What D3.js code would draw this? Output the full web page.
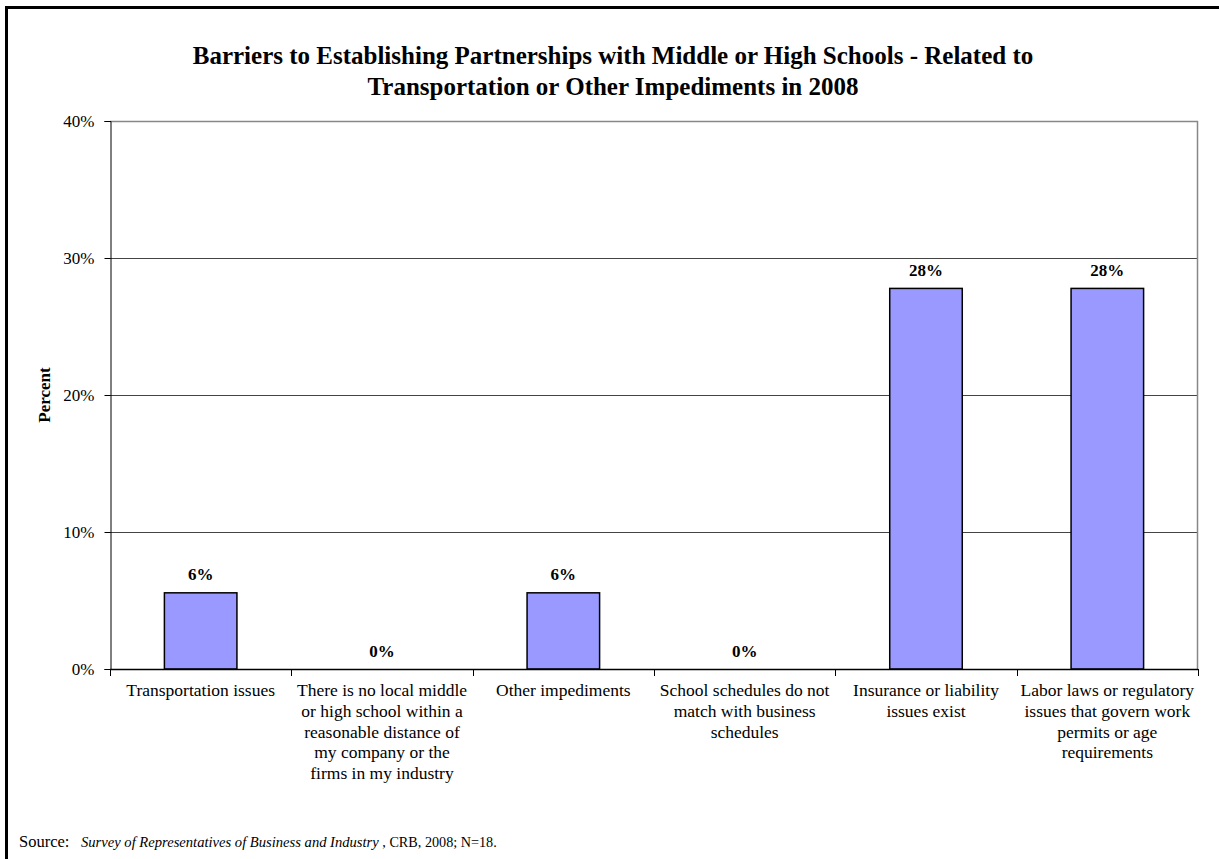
<!DOCTYPE html>
<html>
<head>
<meta charset="utf-8">
<script src="https://cdn.jsdelivr.net/npm/d3@7"></script>
<style>
  html, body { margin: 0; padding: 0; background: #fff; overflow: hidden; }
  svg { display: block; }
  text { font-family: "Liberation Serif", "Times New Roman", serif; fill: #000; }
</style>
</head>
<body>
<svg id="chart" width="1219" height="859"></svg>
<script>
const titleLines = [
  "Barriers to Establishing Partnerships with Middle or High Schools - Related to",
  "Transportation or Other Impediments in 2008"
];
const categories = [
  "Transportation issues",
  "There is no local middle or high school within a reasonable distance of my company or the firms in my industry",
  "Other impediments",
  "School schedules do not match with business schedules",
  "Insurance or liability issues exist",
  "Labor laws or regulatory issues that govern work permits or age requirements"
];
const categoryLines = [
  ["Transportation issues"],
  ["There is no local middle", "or high school within a", "reasonable distance of", "my company or the", "firms in my industry"],
  ["Other impediments"],
  ["School schedules do not", "match with business", "schedules"],
  ["Insurance or liability", "issues exist"],
  ["Labor laws or regulatory", "issues that govern work", "permits or age", "requirements"]
];
const values = [0.0556, 0, 0.0556, 0, 0.2778, 0.2778];
const yTicks = [0, 0.1, 0.2, 0.3, 0.4];
const yAxisTitle = "Percent";
const sourcePrefix = "Source:";
const sourceItalic = "Survey of Representatives of Business and Industry";
const sourceSuffix = " , CRB, 2008; N=18.";

const svg = d3.select("#chart");
const plot = { left: 110, right: 1198, top: 121, bottom: 669 };

// outer frame (cut off at right and bottom)
svg.append("rect")
  .attr("x", 6.5).attr("y", 7.5)
  .attr("width", 1400).attr("height", 1000)
  .attr("fill", "none").attr("stroke", "#000").attr("stroke-width", 3);

const x = d3.scaleBand().domain(categories).range([plot.left, plot.right]).padding(0);
const y = d3.scaleLinear().domain([0, 0.4]).range([plot.bottom, plot.top]);
const fmt = d3.format(".0%");

// gridlines
svg.append("g").selectAll("line")
  .data(yTicks.filter(t => t > 0 && t < 0.4))
  .join("line")
  .attr("x1", plot.left).attr("x2", plot.right)
  .attr("y1", d => Math.round(y(d)) + 0.5).attr("y2", d => Math.round(y(d)) + 0.5)
  .attr("stroke", "#444").attr("stroke-width", 1);

// plot border top & right
svg.append("path")
  .attr("d", `M${plot.left},${plot.top + 0.5}H${plot.right - 0.5}V${plot.bottom}`)
  .attr("fill", "none").attr("stroke", "#888").attr("stroke-width", 1.5);

// bars
const bw = x.bandwidth() * 0.4;
svg.append("g").selectAll("rect")
  .data(values.map((v, i) => ({ c: categories[i], v })))
  .join("rect")
  .filter(d => d.v > 0)
  .attr("x", d => x(d.c) + (x.bandwidth() - bw) / 2)
  .attr("y", d => y(d.v))
  .attr("width", bw)
  .attr("height", d => y(0) - y(d.v))
  .attr("fill", "#9999FF")
  .attr("stroke", "#000")
  .attr("stroke-width", 1.5);

// data labels
svg.append("g").selectAll("text")
  .data(values.map((v, i) => ({ c: categories[i], v })))
  .join("text")
  .attr("x", d => x(d.c) + x.bandwidth() / 2)
  .attr("y", d => y(d.v) - 12.5)
  .attr("text-anchor", "middle")
  .attr("font-weight", "bold")
  .attr("font-size", "17px")
  .text(d => fmt(d.v));

// y axis
const yAxis = svg.append("g")
  .attr("transform", `translate(${plot.left + 0.5},0)`)
  .call(d3.axisLeft(y).tickValues(yTicks).tickFormat(fmt).tickSize(6).tickPadding(10));
yAxis.select(".domain").attr("stroke", "#000");
yAxis.selectAll(".tick line").attr("stroke", "#000");
yAxis.selectAll("text")
  .attr("font-family", "Liberation Serif, Times New Roman, serif")
  .attr("font-size", "17px").attr("fill", "#000");

// x axis line & ticks
svg.append("line")
  .attr("x1", plot.left).attr("x2", plot.right)
  .attr("y1", plot.bottom + 0.5).attr("y2", plot.bottom + 0.5)
  .attr("stroke", "#000").attr("stroke-width", 1.5);
const tickXs = categories.map(c => x(c)).concat([x.range()[1]]);
svg.append("g").selectAll("line")
  .data(tickXs)
  .join("line")
  .attr("x1", d => Math.round(d) + 0.5).attr("x2", d => Math.round(d) + 0.5)
  .attr("y1", plot.bottom).attr("y2", plot.bottom + 7)
  .attr("stroke", "#000");

// category labels
const catG = svg.append("g").selectAll("text")
  .data(categories.map((c, i) => ({ c, lines: categoryLines[i] })))
  .join("text")
  .attr("text-anchor", "middle")
  .attr("font-size", "17.5px");
catG.selectAll("tspan")
  .data(d => d.lines.map((l, j) => ({ l, j, cx: x(d.c) + x.bandwidth() / 2 })))
  .join("tspan")
  .attr("x", d => d.cx)
  .attr("y", d => plot.bottom + 27 + d.j * 20.8)
  .text(d => d.l);

// y axis title
svg.append("text")
  .attr("transform", `translate(50,${(plot.top + plot.bottom) / 2}) rotate(-90)`)
  .attr("text-anchor", "middle")
  .attr("font-weight", "bold")
  .attr("font-size", "17px")
  .text(yAxisTitle);

// chart title
svg.append("text")
  .attr("text-anchor", "middle")
  .attr("font-weight", "bold")
  .attr("font-size", "25px")
  .selectAll("tspan")
  .data(titleLines)
  .join("tspan")
  .attr("x", 613)
  .attr("y", (d, i) => 64 + i * 31)
  .text(d => d);

// source
const src = svg.append("text")
  .attr("x", 19).attr("y", 847)
  .attr("font-size", "16.5px");
src.append("tspan").text(sourcePrefix);
src.append("tspan").attr("x", 81).attr("font-style", "italic").attr("font-size", "14.6px").text(sourceItalic);
src.append("tspan").attr("font-size", "14.2px").text(sourceSuffix);
</script>
</body>
</html>
